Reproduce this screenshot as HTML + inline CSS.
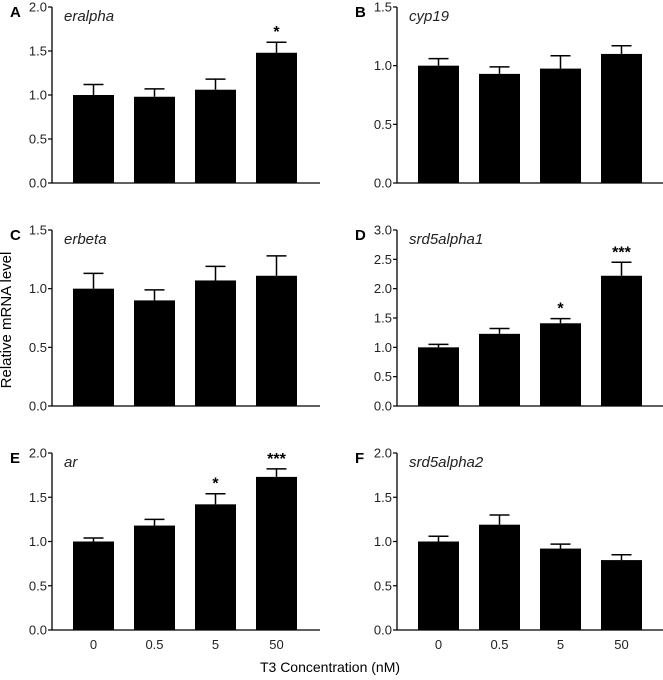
<!DOCTYPE html>
<html><head><meta charset="utf-8"><style>
body{margin:0;background:#fff;}
svg{display:block;font-family:"Liberation Sans",Arial,sans-serif;}
</style></head><body>
<svg id="fig" width="663" height="680">
<text x="11" y="320" transform="rotate(-90 11 320)" font-size="15" text-anchor="middle">Relative mRNA level</text>
<text x="330" y="672" font-size="14" text-anchor="middle">T3 Concentration (nM)</text>
</svg>
<script>
const categories = ["0","0.5","5","50"];
const panelLetters = ["A","B","C","D","E","F"];
const genes = ["eralpha","cyp19","erbeta","srd5alpha1","ar","srd5alpha2"];
const maxY = [2.0,1.5,1.5,3.0,2.0,2.0];
const means = [[1.0,0.98,1.06,1.48],[1.0,0.93,0.975,1.1],[1.0,0.9,1.07,1.11],[1.0,1.23,1.41,2.22],[1.0,1.18,1.42,1.73],[1.0,1.19,0.92,0.79]];
const errs = [[0.12,0.09,0.12,0.12],[0.06,0.06,0.11,0.07],[0.13,0.09,0.12,0.17],[0.05,0.09,0.08,0.23],[0.04,0.07,0.12,0.09],[0.06,0.11,0.05,0.06]];
const stars = [["","","","*"],["","","",""],["","","",""],["","","*","***"],["","","*","***"],["","","",""]];
const tickLabels = [["0.0","0.5","1.0","1.5","2.0"],["0.0","0.5","1.0","1.5"],["0.0","0.5","1.0","1.5"],["0.0","0.5","1.0","1.5","2.0","2.5","3.0"],["0.0","0.5","1.0","1.5","2.0"],["0.0","0.5","1.0","1.5","2.0"]];

const svg=document.getElementById('fig');
const NS='http://www.w3.org/2000/svg';
function mk(tag,attrs,parent){const e=document.createElementNS(NS,tag);for(const k in attrs)e.setAttribute(k,attrs[k]);(parent||svg).appendChild(e);return e;}
const axX=[52,397], rowTop=[7,230,453], rowBot=[183,406,630];
for(let p=0;p<6;p++){
  const col=p%2,row=Math.floor(p/2);
  const x0=axX[col],top=rowTop[row],bot=rowBot[row],xEnd=x0+268;
  const g=mk('g',{});
  
  
  const yS=v=>bot-(v/maxY[p])*(bot-top);
  const xS=i=>x0+21+i*61;
  const bw=41;
  const ax=mk('path',{d:`M${x0} ${top}V${bot}H${xEnd}`,stroke:'#000','stroke-width':1.3,fill:'none'},g);
  
  
  tickLabels[p].forEach(t=>{
    const y=yS(parseFloat(t));
    mk('line',{x1:x0-4,x2:x0,y1:y,y2:y,stroke:'#000','stroke-width':1.2},g);
    const tl=mk('text',{x:x0-5,y:y+4.5,'font-size':13,'text-anchor':'end',fill:'#222'},g);
    tl.textContent=t;
    
    
  });
  const pl=mk('text',{x:x0-42,y:top+10,'font-size':15,'font-weight':'bold'},g);
  pl.textContent=panelLetters[p];
  
  
  const gl=mk('text',{x:x0+12,y:top+14,'font-size':15,'font-style':'italic',fill:'#222'},g);
  gl.textContent=genes[p];
  
  
  for(let i=0;i<4;i++){
    const m=means[p][i],e=errs[p][i],bx=xS(i),cx=bx+bw/2;
    const eb=mk('path',{d:`M${cx} ${yS(m)}V${yS(m+e)}M${cx-10} ${yS(m+e)}H${cx+10}`,stroke:'#000','stroke-width':1.5,fill:'none'},g);
    
    
    const b=mk('rect',{x:bx,y:yS(m),width:bw,height:bot-yS(m),fill:'#000'},g);
    
    
    if(stars[p][i]){
      const s=mk('text',{x:cx,y:yS(m+e)-5,'font-size':16,'font-weight':'bold','text-anchor':'middle'},g);
      s.textContent=stars[p][i];
      
      
    }
    if(row===2){
      const xl=mk('text',{x:cx,y:bot+19,'font-size':13,'text-anchor':'middle',fill:'#222'},g);
      xl.textContent=categories[i];
      
      
    }
  }
}
</script>
</body></html>
